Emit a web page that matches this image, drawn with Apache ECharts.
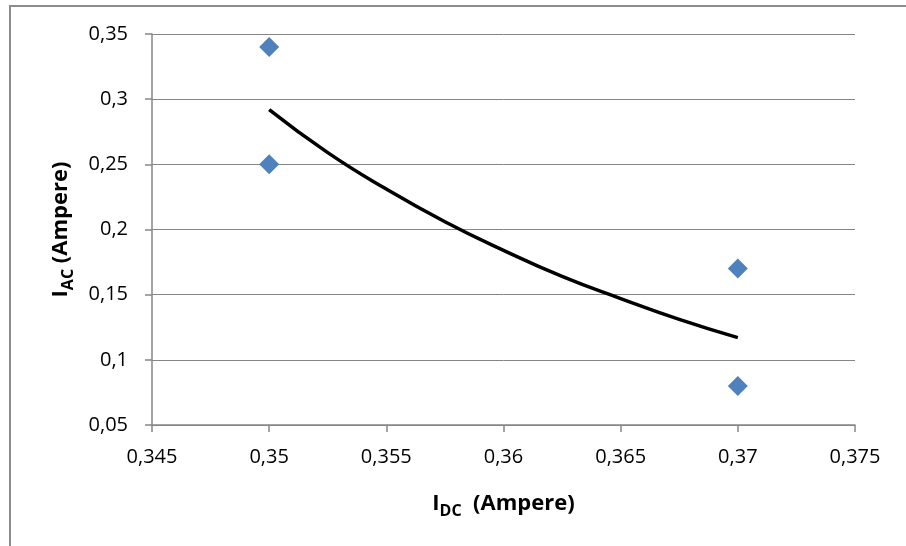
<!DOCTYPE html>
<html>
<head>
<meta charset="utf-8">
<script src="https://cdn.jsdelivr.net/npm/echarts@6/dist/echarts.min.js"></script>
<style>
  html, body { margin: 0; padding: 0; background: #fff; }
  #chart { width: 906px; height: 546px; }
</style>
</head>
<body>
<div id="chart"></div>
<script>
// measured points (I_DC, I_AC)
const idc = [0.35, 0.35, 0.37, 0.37]
const iac = [0.34, 0.25, 0.17, 0.08]
// trend line
const trendX = [0.35, 0.3525, 0.355, 0.3575, 0.36, 0.3625, 0.365, 0.3675, 0.37]
const trendY = [0.292, 0.259, 0.231, 0.206, 0.184, 0.164, 0.147, 0.131, 0.117]

const fmt = v => String(parseFloat(v.toFixed(4))).replace('.', ',')
const font = 'Open Sans'
const gray = '#868686'

const titleRich = {
  m: { fontSize: 22, fontWeight: 'bold', color: '#000', fontFamily: font },
  s: { fontSize: 16, fontWeight: 'bold', color: '#000', fontFamily: font, padding: [14, 0, 0, 0] }
}

const chart = echarts.init(document.getElementById('chart'))
chart.setOption({
  animation: false,
  textStyle: { fontFamily: font },
  graphic: [{
    type: 'rect',
    shape: { x: 10, y: 6, width: 920, height: 560 },
    style: { fill: 'none', stroke: '#8c8c8c', lineWidth: 2 },
    silent: true
  }],
  grid: { left: 152, right: 51, top: 34, bottom: 121 },
  xAxis: {
    type: 'value',
    min: 0.345,
    max: 0.375,
    interval: 0.005,
    axisLine: { lineStyle: { color: gray, width: 1.5 } },
    axisTick: { show: true, length: 7, lineStyle: { color: gray, width: 1.5 } },
    axisLabel: { color: '#000', fontSize: 20, fontFamily: font, margin: 22, formatter: fmt },
    splitLine: { show: false },
    name: '{m|I}{s|DC}{m|  (Ampere)}',
    nameLocation: 'middle',
    nameGap: 64,
    nameTextStyle: { rich: titleRich }
  },
  yAxis: {
    type: 'value',
    min: 0.05,
    max: 0.35,
    interval: 0.05,
    axisLine: { show: true, lineStyle: { color: gray, width: 1.5 } },
    axisTick: { show: true, length: 7, lineStyle: { color: gray, width: 1.5 } },
    axisLabel: { color: '#000', fontSize: 20, fontFamily: font, margin: 24, formatter: fmt },
    splitLine: { lineStyle: { color: gray, width: 1 } },
    name: '{m|I}{s|AC}{m| (Ampere)}',
    nameLocation: 'middle',
    nameRotate: 90,
    nameGap: 76,
    nameTextStyle: { rich: titleRich }
  },
  series: [
    {
      type: 'scatter',
      symbol: 'diamond',
      symbolSize: [20, 20],
      itemStyle: { color: '#4f81bd', opacity: 1 },
      data: idc.map((x, i) => [x, iac[i]]),
      z: 3
    },
    {
      type: 'line',
      smooth: true,
      showSymbol: false,
      lineStyle: { color: '#000', width: 3.5 },
      data: trendX.map((x, i) => [x, trendY[i]]),
      z: 4
    }
  ]
})
</script>
</body>
</html>
